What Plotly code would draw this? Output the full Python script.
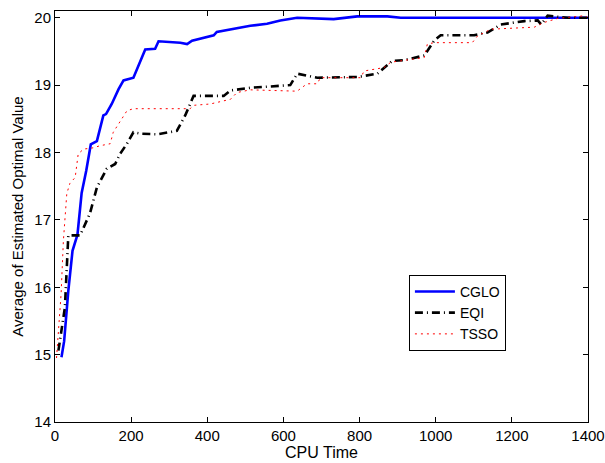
import plotly.graph_objects as go

cglo_x = [17, 24, 35, 46, 59, 70, 82, 94, 110, 127, 134, 149, 167, 180, 206, 237, 263, 272, 329, 347, 360, 382, 417, 425, 434, 465, 513, 557, 592, 636, 732, 794, 873, 908, 1000, 1100, 1200, 1300, 1400]
cglo_y = [14.96, 15.2, 15.95, 16.54, 16.78, 17.4, 17.73, 18.12, 18.17, 18.55, 18.57, 18.72, 18.94, 19.07, 19.11, 19.53, 19.54, 19.65, 19.63, 19.61, 19.66, 19.69, 19.74, 19.79, 19.8, 19.83, 19.88, 19.91, 19.96, 20.0, 19.98, 20.02, 20.02, 20.0, 20.0, 20.0, 20.0, 20.0, 20.0]

eqi_x = [9, 26, 35, 66, 92, 110, 136, 158, 171, 189, 206, 224, 268, 320, 342, 364, 382, 443, 461, 513, 618, 636, 689, 794, 847, 873, 886, 917, 970, 996, 1013, 1101, 1136, 1171, 1233, 1268, 1277, 1294, 1347, 1400]
eqi_y = [15.06, 15.7, 16.77, 16.77, 17.1, 17.48, 17.76, 17.83, 17.98, 18.13, 18.3, 18.28, 18.27, 18.32, 18.55, 18.84, 18.84, 18.84, 18.92, 18.96, 19.0, 19.17, 19.11, 19.12, 19.17, 19.29, 19.36, 19.37, 19.44, 19.66, 19.74, 19.74, 19.78, 19.9, 19.95, 19.96, 19.9, 20.03, 20.0, 20.0]

tsso_x = [4, 9, 16, 22, 31, 39, 53, 61, 75, 101, 118, 145, 153, 189, 206, 355, 364, 408, 443, 461, 478, 513, 636, 662, 689, 697, 803, 812, 864, 882, 908, 970, 978, 996, 1096, 1110, 1145, 1259, 1285, 1320, 1391, 1400]
tsso_y = [14.95, 15.36, 15.9, 16.69, 17.39, 17.54, 17.63, 17.98, 18.05, 18.07, 18.1, 18.13, 18.3, 18.62, 18.65, 18.65, 18.7, 18.72, 18.77, 18.79, 18.89, 18.93, 18.91, 19.02, 19.02, 19.11, 19.11, 19.21, 19.26, 19.34, 19.36, 19.41, 19.61, 19.63, 19.63, 19.73, 19.83, 19.86, 19.93, 19.99, 20.03, 20.0]

x_ticks = [0, 200, 400, 600, 800, 1000, 1200, 1400]
y_ticks = [14, 15, 16, 17, 18, 19, 20]

fig = go.Figure()
fig.add_trace(go.Scatter(x=cglo_x, y=cglo_y, mode="lines", name="CGLO",
                         line=dict(color="#0000ff", width=2.6)))
fig.add_trace(go.Scatter(x=eqi_x, y=eqi_y, mode="lines", name="EQI",
                         line=dict(color="#000000", width=2.6, dash="8px,4px,1px,4px")))
fig.add_trace(go.Scatter(x=tsso_x, y=tsso_y, mode="lines", name="TSSO",
                         line=dict(color="#ff0000", width=1, dash="2px,4px")))

fam = "Liberation Sans, Arial, sans-serif"
font = dict(family=fam, size=15, color="#000000")
axis_common = dict(showgrid=False, zeroline=False, showline=True, linecolor="#000000",
                   linewidth=1, mirror="allticks", ticks="inside", ticklen=5,
                   tickcolor="#000000", tickfont=font, automargin=False)

fig.update_layout(
    width=605, height=463,
    margin=dict(l=55, r=17, t=11, b=41),
    paper_bgcolor="white", plot_bgcolor="white",
    font=font,
    xaxis=dict(range=[0, 1400], tickvals=x_ticks,
               title=dict(text="CPU Time", font=dict(family=fam, size=16, color="#000000"), standoff=0),
               **axis_common),
    yaxis=dict(range=[14, 20.1], tickvals=y_ticks,
               title=dict(text="Average of Estimated Optimal Value", font=font, standoff=7),
               **axis_common),
    legend=dict(x=0.664, y=0.358, xanchor="left", yanchor="top", bgcolor="white",
                bordercolor="#000000", borderwidth=1,
                font=dict(family=fam, size=14, color="#000000"), itemwidth=40,
                tracegroupgap=0),
    showlegend=True,
)

fig.write_html("out.html")
